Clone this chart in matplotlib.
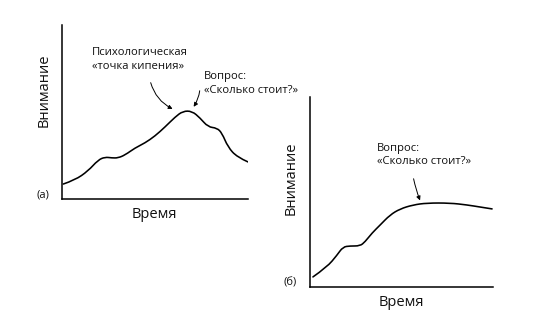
import matplotlib.pyplot as plt
from matplotlib.path import Path
from matplotlib.patches import PathPatch

plt.rcParams['font.family'] = ['Open Sans', 'DejaVu Sans']

# (а) attention curve: time vs attention, arbitrary units 0..100
time_a = [0.7, 7, 14, 19.4, 23.1, 26.9, 30.1, 33.9, 39.2, 44.6, 50, 55.4,
          60.8, 65, 69.9, 74.2, 78.5, 83.3, 86, 89.2, 94.1, 100]
attn_a = [8.6, 10.9, 16.1, 22.4, 24.1, 23.6, 23.6, 25.3, 29.3, 32.2, 36.2, 41.4,
          47.1, 50.5, 50.5, 46.6, 41.4, 40.8, 37.9, 29.9, 24.1, 21.3]

# (б) attention curve
time_b = [1.6, 9.3, 14.8, 18, 21.9, 27.3, 30, 33.9, 38.3, 43.7, 49.2, 56.3,
          63.9, 76.5, 85.8, 92.9, 99.5]
attn_b = [5.3, 10.5, 16.8, 21.1, 21.6, 21.6, 23.7, 28.4, 32.6, 37.9, 41.1, 43.2,
          44.2, 44.2, 43.2, 42.1, 41.1]

W, H = 536, 333
fig = plt.figure(figsize=(W / 100, H / 100), dpi=100)


def px_axes(x0, y0, x1, y1):
    # axes from pixel box (top-left origin)
    return fig.add_axes([x0 / W, 1 - y1 / H, (x1 - x0) / W, (y1 - y0) / H])


def style(ax):
    ax.set_xlim(0, 100)
    ax.set_ylim(0, 100)
    for s in ('top', 'right'):
        ax.spines[s].set_visible(False)
    for s in ('left', 'bottom'):
        ax.spines[s].set_linewidth(1.1)
    ax.set_xticks([])
    ax.set_yticks([])
    ax.patch.set_alpha(0)


def smooth_curve(ax, xs, ys):
    # quadratic bezier through the midpoints, read points act as controls
    pts = list(zip(xs, ys))
    verts = [pts[0]]
    codes = [Path.MOVETO]
    for i in range(1, len(pts) - 1):
        mid = ((pts[i][0] + pts[i + 1][0]) / 2, (pts[i][1] + pts[i + 1][1]) / 2)
        if i == len(pts) - 2:
            mid = pts[-1]
        verts += [pts[i], mid]
        codes += [Path.CURVE3, Path.CURVE3]
    ax.add_patch(PathPatch(Path(verts, codes), fill=False, edgecolor='black',
                           lw=1.15, capstyle='round'))


ax_a = px_axes(62, 25, 248, 199)
style(ax_a)
smooth_curve(ax_a, time_a, attn_a)

ax_b = px_axes(310, 97, 493, 287)
style(ax_b)
smooth_curve(ax_b, time_b, attn_b)

label_kw = dict(fontsize=10.5, color='#111111')
small_kw = dict(fontsize=8.1, color='#111111', linespacing=1.35)
arrow = dict(arrowstyle='-|>', color='black', lw=0.7, mutation_scale=6)

# panel (а)
fig.text(44 / W, 1 - 90 / H, 'Внимание', rotation=90, ha='center', va='center', **label_kw)
fig.text(154 / W, 1 - 214 / H, 'Время', ha='center', va='center', **label_kw)
fig.text(43 / W, 1 - 195 / H, '(a)', ha='center', va='center', fontsize=8, color='#111111')
ax_a.text(16.1, 87.4, 'Психологическая\n«точка кипения»', ha='left', va='top', **small_kw)
ax_a.text(76.3, 73.5, 'Вопрос:\n«Сколько стоит?»', ha='left', va='top', **small_kw)
ax_a.annotate('', xy=(60.8, 51.1), xytext=(47.3, 68.4),
              arrowprops=dict(connectionstyle='arc3,rad=0.25', **arrow))
ax_a.annotate('', xy=(69.9, 51.7), xytext=(74.2, 63.8),
              arrowprops=dict(connectionstyle='arc3,rad=-0.15', **arrow))

# panel (б)
fig.text(291 / W, 1 - 178 / H, 'Внимание', rotation=90, ha='center', va='center', **label_kw)
fig.text(401 / W, 1 - 303 / H, 'Время', ha='center', va='center', **label_kw)
fig.text(290 / W, 1 - 283 / H, '(б)', ha='center', va='center', fontsize=8, color='#111111')
ax_b.text(36.6, 76, 'Вопрос:\n«Сколько стоит?»', ha='left', va='top', **small_kw)
ax_b.annotate('', xy=(60.7, 44.2), xytext=(56.3, 58.4),
              arrowprops=dict(connectionstyle='arc3,rad=0.05', **arrow))

fig.savefig('out.png', dpi=100)
